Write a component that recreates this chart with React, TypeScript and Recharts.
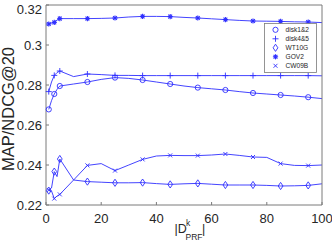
import React from "react";
import { LineChart, Line, XAxis, YAxis, Legend } from "recharts";

// |D^k_PRF| values
const xs = [1, 2, 3, 4, 5, 10, 15, 20, 25, 30, 35, 40, 45, 50, 55, 60, 65, 70, 75, 80, 85, 90, 95, 100];

const disk12 = [
  0.2678, 0.2722, 0.2755, 0.2778, 0.2795, 0.2805, 0.2815, 0.2828, 0.2837, 0.2833, 0.2825, 0.2815,
  0.2805, 0.2795, 0.2787, 0.2781, 0.2775, 0.2767, 0.276, 0.2755, 0.275, 0.2745, 0.2739, 0.2732,
];
const disk45 = [
  0.2767, 0.2815, 0.2848, 0.2862, 0.287, 0.2842, 0.2855, 0.2852, 0.2848, 0.2848, 0.2847, 0.2847,
  0.2847, 0.2847, 0.2847, 0.2847, 0.2847, 0.2847, 0.2847, 0.2847, 0.2847, 0.2847, 0.2847, 0.2846,
];
const wt10g = [
  0.2272, 0.2285, 0.2367, 0.2342, 0.243, 0.2325, 0.2317, 0.2314, 0.2311, 0.2311, 0.2312, 0.2307,
  0.2303, 0.2306, 0.2308, 0.2304, 0.23, 0.23, 0.23, 0.2298, 0.2295, 0.2296, 0.2298, 0.2306,
];
const gov2 = [
  0.3105, 0.311, 0.3113, 0.3125, 0.3132, 0.3132, 0.3132, 0.3133, 0.3135, 0.314, 0.3143, 0.3143,
  0.3142, 0.3138, 0.3135, 0.3131, 0.3127, 0.3123, 0.312, 0.3119, 0.3118, 0.3116, 0.3115, 0.3112,
];
const cw09b = [
  0.2275, 0.227, 0.2232, 0.2245, 0.2253, 0.2325, 0.2398, 0.2407, 0.2372, 0.24, 0.2428, 0.2445,
  0.2448, 0.2447, 0.2447, 0.245, 0.2455, 0.2448, 0.244, 0.2438, 0.2407, 0.2398, 0.2397, 0.24,
];

const seriesNames = ["disk1&2", "disk4&5", "WT10G", "GOV2", "CW09B"];
const seriesKeys = ["disk12", "disk45", "wt10g", "gov2", "cw09b"];
const markers = ["circle", "plus", "diamond", "star", "cross"];

const xTicks = [0, 20, 40, 60, 80, 100];
const yTicks = [0.22, 0.24, 0.26, 0.28, 0.3, 0.32];

const data = xs.map((x, i) => ({
  x,
  disk12: disk12[i],
  disk45: disk45[i],
  wt10g: wt10g[i],
  gov2: gov2[i],
  cw09b: cw09b[i],
}));

const BLUE = "#2f2fff";
const AXIS = "#7a7a7a";
const TEXT = "#262626";
const FONT = "'Liberation Sans', Arial, sans-serif";

function marker(type: string, cx: number, cy: number, key?: string) {
  const s = { stroke: BLUE, strokeWidth: 0.9, fill: "none" };
  switch (type) {
    case "circle":
      return <circle key={key} cx={cx} cy={cy} r={2.6} {...s} />;
    case "plus":
      return (
        <g key={key} {...s}>
          <line x1={cx - 3} x2={cx + 3} y1={cy} y2={cy} />
          <line x1={cx} x2={cx} y1={cy - 3} y2={cy + 3} />
        </g>
      );
    case "diamond":
      return (
        <polygon
          key={key}
          points={`${cx},${cy - 3.6} ${cx + 2.4},${cy} ${cx},${cy + 3.6} ${cx - 2.4},${cy}`}
          {...s}
        />
      );
    case "star":
      return (
        <g key={key} {...s} strokeWidth={1.1}>
          <line x1={cx - 2.6} x2={cx + 2.6} y1={cy} y2={cy} />
          <line x1={cx} x2={cx} y1={cy - 2.6} y2={cy + 2.6} />
          <line x1={cx - 1.9} x2={cx + 1.9} y1={cy - 1.9} y2={cy + 1.9} />
          <line x1={cx - 1.9} x2={cx + 1.9} y1={cy + 1.9} y2={cy - 1.9} />
        </g>
      );
    default:
      return (
        <g key={key} {...s}>
          <line x1={cx - 2} x2={cx + 2} y1={cy - 2} y2={cy + 2} />
          <line x1={cx - 2} x2={cx + 2} y1={cy + 2} y2={cy - 2} />
        </g>
      );
  }
}

// markers on every other point, like MarkerIndices 1:2:end
const dotFor = (type: string) => (p: any) => {
  const k = `${type}-${p.index}`;
  if (p.index % 2 !== 0) return <g key={k} />;
  return marker(type, p.cx, p.cy, k);
};

function LegendBox() {
  return (
    <svg width={53} height={50} style={{ display: "block" }}>
      <rect x={0.5} y={0.5} width={52} height={49} fill="#fff" stroke={AXIS} strokeWidth={0.8} />
      {seriesNames.map((name, i) => (
        <g key={name}>
          {marker(markers[i], 11.5, 6.8 + i * 9)}
          <text x={21.5} y={6.8 + i * 9} dy="0.35em" fontSize={6.6} fill={TEXT} fontFamily={FONT}>
            {name}
          </text>
        </g>
      ))}
    </svg>
  );
}

const fmtY = (v: number) => String(Number(v.toFixed(2)));

function YTick(props: any) {
  return (
    <text x={42} y={props.y} dy="0.36em" textAnchor="end" fontSize={13} fill={TEXT} fontFamily={FONT}>
      {fmtY(props.payload.value)}
    </text>
  );
}

export default function App() {
  return (
    <div style={{ position: "absolute", left: 0, top: 0, width: 332, height: 252, background: "#fff" }}>
      <LineChart width={332} height={252} data={data} margin={{ top: 4, right: 9, bottom: 17, left: 0 }}>
        <XAxis
          dataKey="x"
          type="number"
          domain={[0, 100]}
          ticks={xTicks}
          tickSize={-3}
          tickMargin={12}
          height={30}
          stroke={AXIS}
          tick={{ fontSize: 13, fill: TEXT, fontFamily: FONT }}
        />
        <XAxis
          xAxisId="top"
          orientation="top"
          type="number"
          domain={[0, 100]}
          ticks={xTicks}
          tickSize={-3}
          height={1}
          stroke={AXIS}
          tick={false}
        />
        <YAxis
          type="number"
          domain={[0.22, 0.32]}
          ticks={yTicks}
          tickSize={-3}
          width={46}
          stroke={AXIS}
          tick={<YTick />}
        />
        <YAxis
          yAxisId="right"
          orientation="right"
          type="number"
          domain={[0.22, 0.32]}
          ticks={yTicks}
          tickSize={-3}
          width={1}
          stroke={AXIS}
          tick={false}
        />
        <Legend
          layout="vertical"
          align="center"
          verticalAlign="middle"
          wrapperStyle={{ left: 264, top: 23, width: 53, height: 50 }}
          content={() => <LegendBox />}
        />
        {seriesKeys.map((k, i) => (
          <Line
            key={k}
            dataKey={k}
            name={seriesNames[i]}
            type="linear"
            stroke={BLUE}
            strokeWidth={0.9}
            dot={dotFor(markers[i])}
            activeDot={false}
            isAnimationActive={false}
          />
        ))}
      </LineChart>
      {/* axis titles */}
      <svg
        width={332}
        height={252}
        style={{ position: "absolute", left: 0, top: 0, pointerEvents: "none" }}
        fontFamily={FONT}
        fill={TEXT}
      >
        <text x={14} y={109} transform="rotate(-90 14 109)" textAnchor="middle" fontSize={16.5}>
          MAP/NDCG@20
        </text>
        <text x={174.5} y={232.5} fontSize={12.5}>|D</text>
        <text x={186} y={226} fontSize={8.5}>k</text>
        <text x={185.5} y={240} fontSize={8.5}>PRF</text>
        <text x={202} y={232.5} fontSize={12.5}>|</text>
      </svg>
    </div>
  );
}
